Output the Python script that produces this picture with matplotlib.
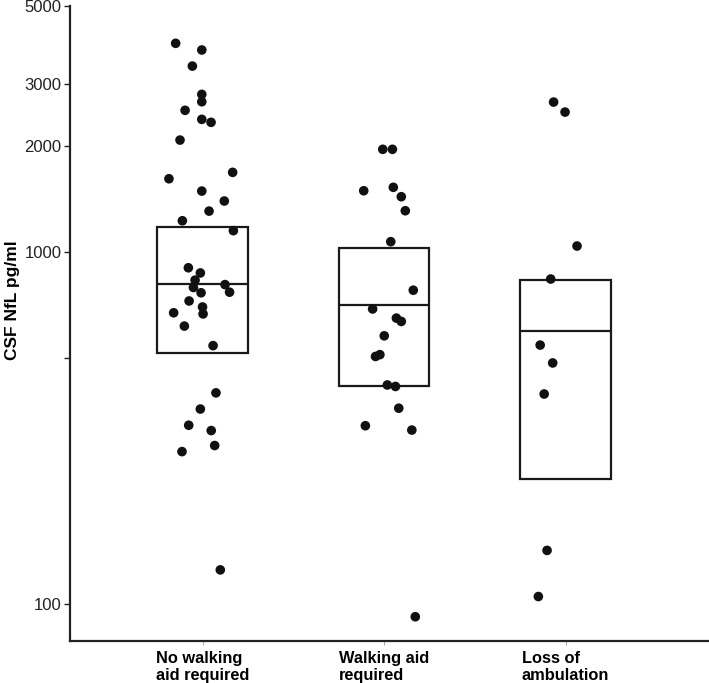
import numpy as np
import matplotlib
matplotlib.use('Agg')
import matplotlib.pyplot as plt
from matplotlib.patches import Rectangle

plt.rcParams['font.family'] = ['Liberation Sans', 'DejaVu Sans']

groups = ['No walking\naid required', 'Walking aid\nrequired', 'Loss of\nambulation']

# CSF NfL (pg/ml) per patient
nfl_no_aid = [3917, 3750, 3375, 2805, 2673, 2527, 2382, 2336, 2080, 1615, 1684, 1490,
              1396, 1307, 1227, 1150, 902, 872, 832, 793, 808, 769, 766, 726, 698,
              672, 667, 616, 542, 398, 358, 322, 311, 282, 271, 125]
nfl_aid = [1958, 1958, 1493, 1527, 1436, 1310, 1070, 779, 689, 649, 635, 578,
           511, 505, 419, 415, 360, 321, 312, 92]
nfl_loss = [2667, 2498, 1040, 838, 544, 484, 395, 142, 105]

# horizontal jitter of each point (category units)
jit_no_aid = [-0.148, -0.004, -0.056, -0.004, -0.004, -0.096, -0.004, 0.047, -0.124,
              -0.185, 0.166, -0.004, 0.120, 0.036, -0.111, 0.170, -0.078, -0.012,
              -0.041, -0.050, 0.124, 0.149, -0.008, -0.074, 0.0, -0.159, 0.003,
              -0.100, 0.058, 0.074, -0.012, -0.076, 0.048, 0.067, -0.113, 0.098]
jit_aid = [-0.007, 0.046, -0.112, 0.051, 0.095, 0.117, 0.037, 0.161, -0.063, 0.068,
           0.095, 0.001, -0.023, -0.047, 0.018, 0.063, 0.081, -0.103, 0.153, 0.172]
jit_loss = [-0.066, -0.003, 0.063, -0.082, -0.140, -0.071, -0.118, -0.102, -0.150]

# box summaries
q1 = [515, 416, 227]
median = [811, 707, 598]
q3 = [1177, 1024, 833]

values = [nfl_no_aid, nfl_aid, nfl_loss]
jitters = [jit_no_aid, jit_aid, jit_loss]

fig = plt.figure(figsize=(7.09, 6.83), dpi=100)
ax = fig.add_axes([70 / 709, 1 - 641 / 683, 1 - 70 / 709, 635 / 683])

box_w = 0.5
for i in range(len(groups)):
    ax.add_patch(Rectangle((i - box_w / 2, q1[i]), box_w, q3[i] - q1[i],
                           fill=False, edgecolor='#1a1a1a', linewidth=1.6, zorder=2))
    ax.hlines(median[i], i - box_w / 2, i + box_w / 2, color='#1a1a1a',
              linewidth=1.6, zorder=2)
    xs = i + np.array(jitters[i])
    ax.scatter(xs, values[i], s=48, color='#111111', edgecolors='none', zorder=3)

ax.set_yscale('log')
ax.set_ylim(78.5, 5000)
ax.set_xlim(-0.73, 2.79)

ax.set_yticks([100, 500, 1000, 2000, 3000, 5000])
ax.set_yticklabels(['100', '', '1000', '2000', '3000', '5000'], fontsize=12)
ax.yaxis.set_minor_locator(matplotlib.ticker.NullLocator())
ax.tick_params(axis='y', length=4.5, width=1.0, pad=1.5, colors='#222222')

ax.set_xticks(range(len(groups)))
ax.set_xticklabels(groups, fontsize=11.8, fontweight='bold', multialignment='left',
                   linespacing=1.2)
ax.tick_params(axis='x', length=3, width=0.6, pad=4, color='#999999')

ax.set_ylabel('CSF NfL pg/ml', fontsize=12.5, fontweight='bold')
ax.yaxis.set_label_coords(-0.079, 0.537)

for side in ['top', 'right']:
    ax.spines[side].set_visible(False)
for side in ['left', 'bottom']:
    ax.spines[side].set_linewidth(1.6)
    ax.spines[side].set_color('#222222')

fig.savefig('out.png', dpi=100)
